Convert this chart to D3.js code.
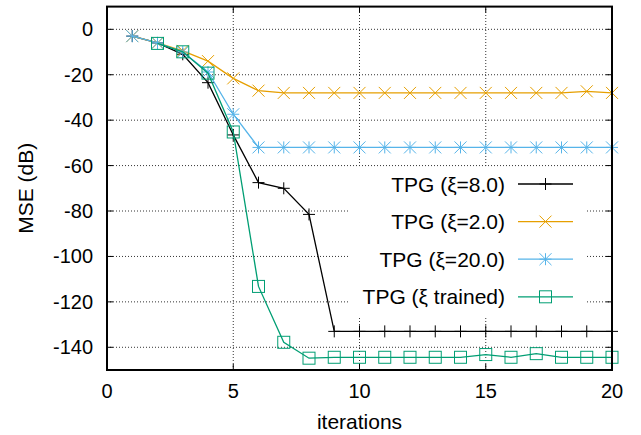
<!DOCTYPE html>
<html>
<head>
<meta charset="utf-8">
<script src="https://cdn.jsdelivr.net/npm/d3@7"></script>
<style>
body { margin: 0; background: #fff; }
text { font-family: "Liberation Sans", Arial, sans-serif; fill: #000; }
</style>
</head>
<body>
<script>
// data
var iterations = [1,2,3,4,5,6,7,8,9,10,11,12,13,14,15,16,17,18,19,20]
var xi8 = [-3,-6,-11,-23.5,-46.5,-67.5,-70,-81.5,-133,-133,-133,-133,-133,-133,-133,-133,-133,-133,-133,-133]
var xi2 = [-3,-6,-9.5,-14,-21.6,-27,-28,-28,-28,-28,-28,-28,-28,-28,-28,-28,-28,-28,-27.3,-28]
var xi20 = [-3,-6,-10,-18.8,-37.4,-52,-52,-52,-52,-52,-52,-52,-52,-52,-52,-52,-52,-52,-52,-52]
// trained starts at iteration 2
var trainedIter = [2,3,4,5,6,7,8,9,10,11,12,13,14,15,16,17,18,19,20]
var trained = [-6.2,-9.9,-19.3,-45.2,-113.2,-137.8,-144.8,-144.4,-144.4,-144.4,-144.4,-144.4,-144.4,-143.2,-144.4,-142.8,-144.4,-144.4,-144.4]
var xTicks = [0,5,10,15,20]
var yTicks = [0,-20,-40,-60,-80,-100,-120,-140]
var seriesNames = ["TPG (\u03be=8.0)", "TPG (\u03be=2.0)", "TPG (\u03be=20.0)", "TPG (\u03be trained)"]
var seriesColors = ["#000000", "#e69f00", "#56b4e9", "#009e73"]
var seriesMarks = ["plus", "cross", "star", "square"]

var W = 641, H = 435
var margin = {top: 6.6, right: 29, bottom: 65, left: 107}

var svg = d3.select("body").append("svg")
	.attr("width", W)
	.attr("height", H)

var x = d3.scaleLinear().domain([0, 20]).range([margin.left, W - margin.right])
var y = d3.scaleLinear().domain([-150, 10]).range([H - margin.bottom, margin.top])

var x0 = x.range()[0], x1 = x.range()[1]
var y0 = y.range()[0], y1 = y.range()[1]

// grid
var grid = svg.append("g")
grid.selectAll(".gx").data(xTicks.slice(1, -1)).enter().append("line")
	.attr("x1", function(d){ return x(d) }).attr("x2", function(d){ return x(d) })
	.attr("y1", y0).attr("y2", y1)
	.attr("stroke", "#333").attr("stroke-width", 1).attr("stroke-dasharray", "1,2")
grid.selectAll(".gy").data(yTicks).enter().append("line")
	.attr("x1", x0).attr("x2", x1)
	.attr("y1", function(d){ return y(d) }).attr("y2", function(d){ return y(d) })
	.attr("stroke", "#333").attr("stroke-width", 1).attr("stroke-dasharray", "1,2")

// legend background hides the grid behind it
var legX = 350, legY = 168, legRow = 37.6
svg.append("rect")
	.attr("x", legX).attr("y", legY)
	.attr("width", 236).attr("height", 148)
	.attr("fill", "#fff")

// inward ticks on all four sides
var tk = 6
var ticks = svg.append("g").attr("stroke", "#000").attr("stroke-width", 1)
xTicks.forEach(function(d){
	ticks.append("line").attr("x1", x(d)).attr("x2", x(d)).attr("y1", y0).attr("y2", y0 - tk)
	ticks.append("line").attr("x1", x(d)).attr("x2", x(d)).attr("y1", y1).attr("y2", y1 + tk)
})
yTicks.forEach(function(d){
	ticks.append("line").attr("x1", x0).attr("x2", x0 + tk).attr("y1", y(d)).attr("y2", y(d))
	ticks.append("line").attr("x1", x1).attr("x2", x1 - tk).attr("y1", y(d)).attr("y2", y(d))
})

// tick labels
svg.selectAll(".xl").data(xTicks).enter().append("text")
	.attr("x", function(d){ return x(d) })
	.attr("y", y0 + 28)
	.attr("text-anchor", "middle")
	.attr("font-size", 20)
	.text(function(d){ return d })
svg.selectAll(".yl").data(yTicks).enter().append("text")
	.attr("x", 93)
	.attr("y", function(d){ return y(d) + 7 })
	.attr("text-anchor", "end")
	.attr("font-size", 20)
	.text(function(d){ return d })

svg.append("text")
	.attr("x", (x0 + x1) / 2).attr("y", 429)
	.attr("text-anchor", "middle").attr("font-size", 21)
	.text("iterations")
svg.append("text")
	.attr("transform", "translate(33," + ((y0 + y1) / 2) + ") rotate(-90)")
	.attr("text-anchor", "middle").attr("font-size", 21)
	.text("MSE (dB)")

// marker shapes
function drawMark(g, type, cx, cy, color){
	var s = 6
	if (type == "plus" || type == "star"){
		g.append("path").attr("d", "M" + (cx - s) + "," + cy + "H" + (cx + s) + "M" + cx + "," + (cy - s) + "V" + (cy + s))
			.attr("stroke", color).attr("stroke-width", 1).attr("fill", "none")
	}
	if (type == "cross" || type == "star"){
		g.append("path").attr("d", "M" + (cx - s) + "," + (cy - s) + "L" + (cx + s) + "," + (cy + s) + "M" + (cx - s) + "," + (cy + s) + "L" + (cx + s) + "," + (cy - s))
			.attr("stroke", color).attr("stroke-width", 1).attr("fill", "none")
	}
	if (type == "square"){
		g.append("rect").attr("x", cx - s).attr("y", cy - s).attr("width", 2 * s).attr("height", 2 * s)
			.attr("stroke", color).attr("stroke-width", 1).attr("fill", "none")
	}
}

var line = d3.line()
	.x(function(d){ return x(d[0]) })
	.y(function(d){ return y(d[1]) })

var allData = [
	d3.zip(iterations, xi8),
	d3.zip(iterations, xi2),
	d3.zip(iterations, xi20),
	d3.zip(trainedIter, trained)
]

allData.forEach(function(pts, i){
	var g = svg.append("g")
	g.append("path").datum(pts)
		.attr("d", line)
		.attr("fill", "none")
		.attr("stroke", seriesColors[i])
		.attr("stroke-width", 1.3)
	pts.forEach(function(p){
		drawMark(g, seriesMarks[i], x(p[0]), y(p[1]), seriesColors[i])
	})

	// legend entry
	var ly = legY + 16 + i * legRow
	svg.append("text")
		.attr("x", 505).attr("y", ly + 7.5)
		.attr("text-anchor", "end").attr("font-size", 21)
		.text(seriesNames[i])
	svg.append("line")
		.attr("x1", 518).attr("x2", 573).attr("y1", ly).attr("y2", ly)
		.attr("stroke", seriesColors[i]).attr("stroke-width", 1.3)
	drawMark(svg, seriesMarks[i], 545.5, ly, seriesColors[i])
})

// border
svg.append("rect")
	.attr("x", x0).attr("y", y1)
	.attr("width", x1 - x0).attr("height", y0 - y1)
	.attr("fill", "none").attr("stroke", "#000").attr("stroke-width", 2)
</script>
</body>
</html>
